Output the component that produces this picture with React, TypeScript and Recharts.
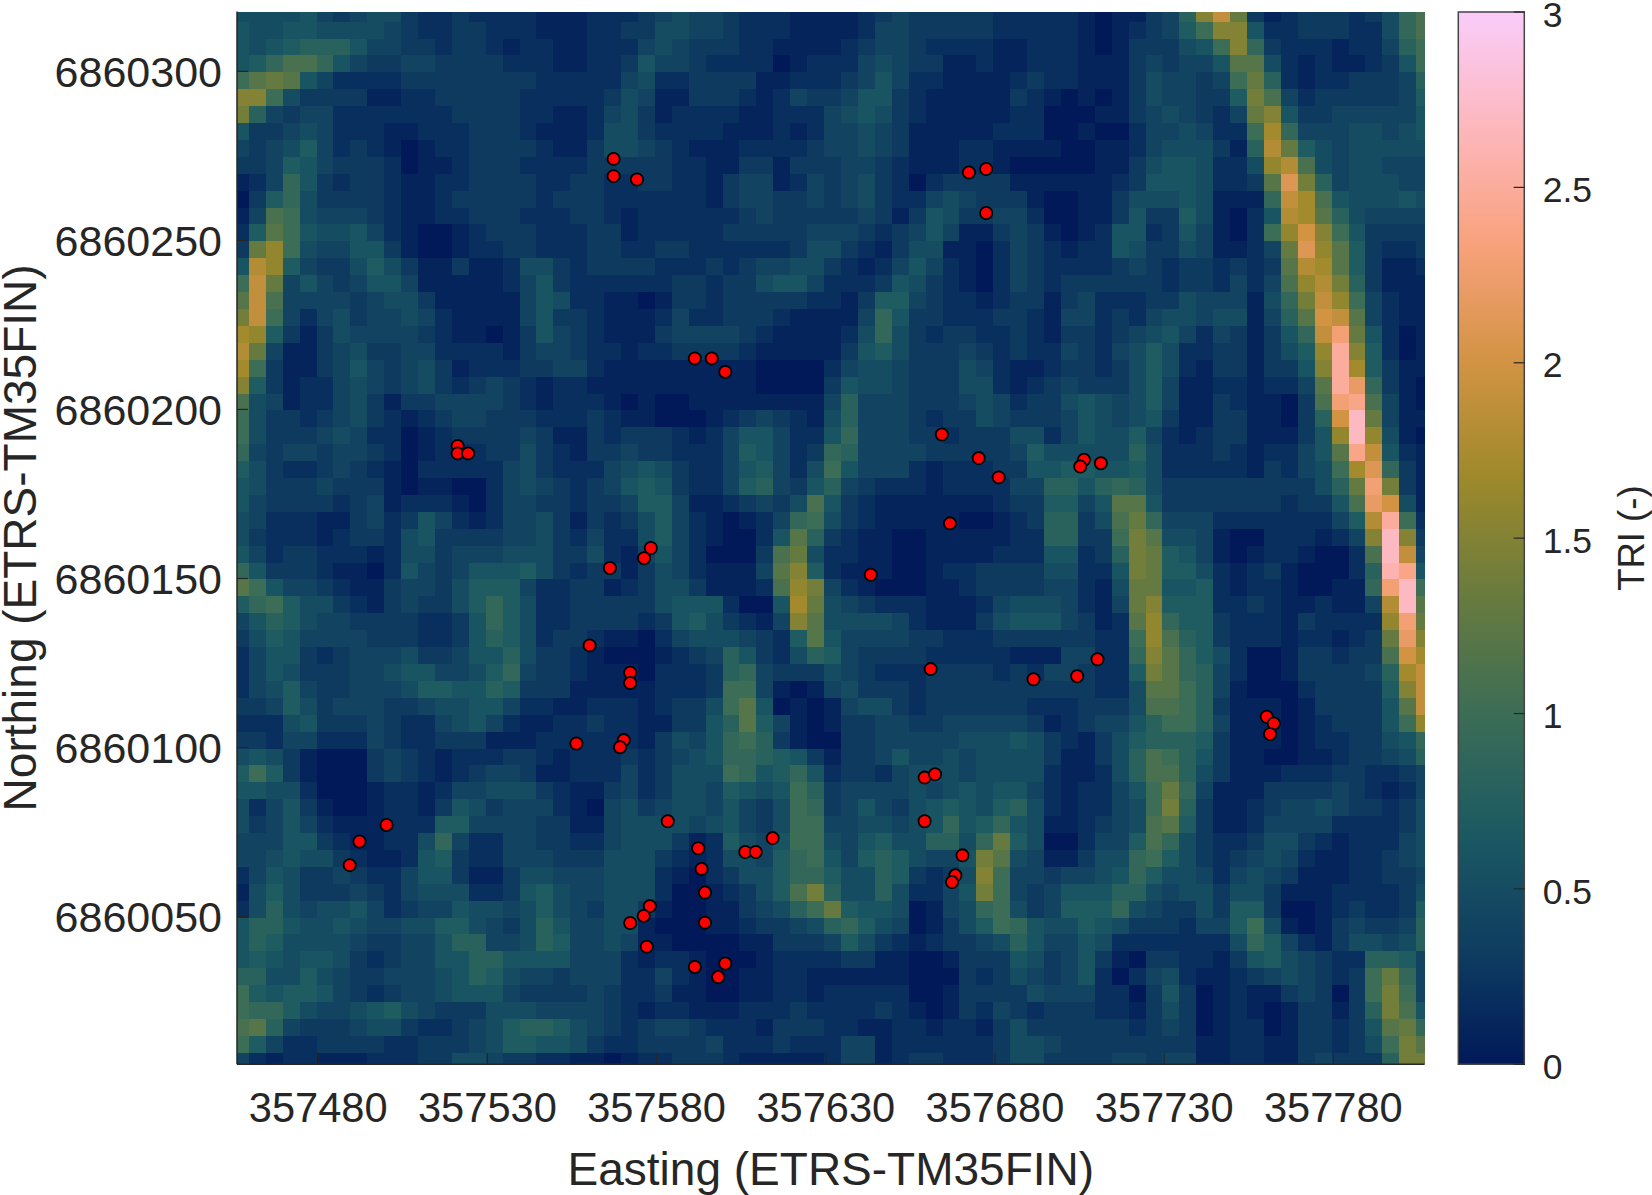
import { ScatterChart, Scatter, BarChart, Bar, XAxis, YAxis } from "recharts";

const eastTicks = [357480, 357530, 357580, 357630, 357680, 357730, 357780];
const northTicks = [6860050, 6860100, 6860150, 6860200, 6860250, 6860300];
const triTicks = [0, 0.5, 1, 1.5, 2, 2.5, 3];

// TRI per raster cell, one character per cell in tenths (0-9 then a=1.0, b=1.1, ...), north to south
const westCols = [
  "55556 43455 32232 22211 1222", "65566 55554 32233 22211 1223", "65678 88644 33233 21221 1222", "679bb 96433 44333 32221 1223",
  "acdc6 42222 33333 33322 2224", "ffa53 33311 22333 33222 2235", "e8434 42222 22233 33221 1245", "63345 42221 12223 33211 1255",
  "43457 42321 01223 33321 1355", "33476 43332 01123 33222 2333", "12496 32332 11223 33322 3322", "03795 33332 11233 33323 3322",
  "14ba5 44432 11223 33222 3321", "27ca6 55642 10012 33322 2331", "3dga5 44663 10012 23322 2332", "6ig74 33575 31131 12553 2333",
  "ajd46 43466 41111 12463 2222", "cjb44 44345 53111 11465 2211", "eja42 45344 54211 11463 3211", "hg731 35444 43211 01364 3211",
  "id411 34533 44222 21344 3221", "ha311 34643 45312 22334 4211", "f7312 24543 45323 43212 2111", "b5412 24531 33444 43212 2210",
  "a5332 34532 12344 33322 2321", "a5333 45422 01233 33431 1323", "94344 34432 01222 33532 1334", "75322 34321 02222 24532 2245",
  "65333 43331 01100 24543 2346", "64333 32341 22210 24433 2334", "54222 11342 36421 24453 1323", "53222 12332 56333 34453 2422",
  "64233 22212 55344 45553 3521", "96333 21102 64346 66753 2331", "ca644 32113 44357 77422 3312", "79a75 53213 43357 97522 3333",
  "46875 44333 32236 97522 3333", "35764 44433 32236 87523 3211", "24663 23444 53346 68533 2100", "24653 33445 66445 79433 2111",
  "24574 33444 57766 87333 1111", "33475 34443 34556 64221 1222", "22256 33343 22456 42112 2322", "33244 22243 22333 11122 2222",
  "56531 00034 32122 23321 2223", "7a731 00034 32123 44311 2224", "66552 00012 21244 55532 1134", "52463 10012 21365 34442 1045",
  "53464 21112 22774 44433 1145", "44466 32112 25942 24433 2245", "44565 53211 26732 24443 3355", "24653 34322 46631 13554 4455",
  "15753 33432 45552 23675 4455", "25854 55642 34465 54575 4355", "68865 56544 55775 43586 4455", "68755 55433 44688 44587 4454",
  "67656 65323 44668 86666 4442", "88557 54334 44568 75443 4442", "a7677 64323 44566 64333 3432", "a9975 44567 54333 55544 4432",
  "bc843 33455 32234 57887 5432", "a7422 33332 23334 57766 5322", "42122 11122 23355 43322 1101",
];
const midCols = [
  "34544 32221 11123 43333 3222", "35544 32221 11124 43333 3222", "45433 32211 11234 43222 2112", "64432 22201 22245 43311 2112",
  "52233 33112 22346 42211 1123", "41133 32124 33466 32111 1132", "31222 21122 24565 32111 1122", "32222 11121 24454 31111 1222",
  "43211 12222 34454 31112 2111", "33221 13313 33443 21112 2100", "33221 34412 43453 20233 3311", "22221 34433 43453 22454 3331",
  "22222 23433 33343 13653 3442", "22222 33333 44432 34641 1343", "23322 22223 55321 35511 0243", "32223 23445 53212 46421 0243",
  "22332 33566 42223 65321 0243", "01332 33333 22137 74322 1233", "12422 33321 11149 63322 2332", "13444 43211 11259 53233 2232",
  "22333 32111 11367 53334 3232", "11111 11000 02455 43335 4211", "11111 11000 03655 43335 5212", "10011 11111 14844 43334 5423",
  "10001 23432 15844 43233 5433", "33212 46642 26944 43323 3355", "33222 47642 39844 44333 3347", "65322 46742 5a644 42122 2336",
  "76322 47843 68432 22122 2244", "77411 23435 b6321 11111 1233", "57421 01249 a5321 11110 0123", "57421 0026c 83211 00111 1122",
  "46420 003bd 52211 00111 1222", "35421 114cf 72111 00122 3333", "35531 112bg e4210 00112 3333", "35666 2006h d5432 22111 2455",
  "23675 3214f c5555 42111 3566", "02455 54327 c6444 43322 2333", "01234 86325 87433 33222 2211", "02223 89433 35432 22333 3232",
  "12223 aa410 14533 32333 3333", "12335 ac601 01455 32333 3332", "11336 8c741 01334 43344 4443", "13546 9a831 00334 44445 5565",
  "23456 99876 31334 64454 5555", "23555 a9679 62332 45554 5555", "23554 7656a 83444 45456 5664", "34554 6435a 93464 35676 5785",
  "55545 6435a a4455 45696 7965", "55312 7546a a5467 55885 9d75", "53212 55479 a6478 75446 ec54", "52102 35579 97558 73235 fa44",
  "52001 2357b e8558 52246 ea43", "31001 13458 ad766 50145 9a53", "10001 12334 58975 40135 7a96", "11000 01133 34753 21233 4586",
  "12210 00122 22331 10013 3365", "24210 01122 11111 10003 2354", "23110 01122 12222 20013 3335", "12211 12223 22223 21013 2432",
  "34432 22133 32211 22122 1353", "33334 22232 22441 22222 2355", "22333 21111 12441 23322 2355",
];
const eastCols = [
  "22101 1348f jd312 33323 59b", "22101 2347a ff622 33322 59b", "22101 33356 af932 22122 48a", "22111 34344 6cc52 12112 36a",
  "22111 35443 4ad82 12233 348", "10101 35443 37eb4 23333 347", "00011 34543 24df6 33444 446", "00100 24454 22ah9 44455 456",
  "10011 24555 318id 75455 555", "00011 35665 225gi b5455 444", "11112 36665 223cl e8455 544", "00113 55565 1119j hb655 565",
  "00113 63375 1026i hc854 444", "10126 62364 102ag kfa63 333", "21226 53354 1124d lgc73 223", "22223 43233 2323c ihc73 112",
  "23333 33233 2424b gie83 111", "13422 23354 44159 ejga4 211", "14423 24554 55148 ckjc4 211", "13323 45642 43136 9jnd6 201",
  "24324 57522 33135 7gpf7 201", "23323 57521 33133 6fph7 311", "34333 57411 22122 4cpm9 310", "35654 57411 32110 3bnob 410",
  "34654 56311 33110 38krd 411", "24655 74212 33111 36grg 510", "55555 85222 32122 46coj 621", "67766 75222 22132 45ahl 931",
  "88689 85333 33333 358dn e31", "7746c c6333 33332 336bm k51", "8835b d9444 22222 2247i pa2", "8833a ec554 10022 2124f rf3",
  "66238 ed764 10122 1002b rj4", "55226 ed775 21231 00028 qo6", "44215 dd667 21221 00119 nra", "54214 df777 22321 12114 irc",
  "64312 cg977 32221 32222 gnd", "33322 agb87 32221 22123 dmf", "14422 9fc97 52001 33233 bkh", "44322 7ec98 42001 33334 8hj",
  "33322 5cca8 41000 23333 7fj", "22333 5bba8 31110 13333 6cj", "12344 68aa8 41110 12333 6ag", "32135 78887 31110 12233 569",
  "31135 8ba86 31100 11233 458", "21125 8bb85 31112 22332 234", "21224 6ad94 11133 33432 124", "21224 5ae83 11234 45433 235",
  "11234 5bc73 11244 44222 235", "00244 7b953 22355 32122 245", "11355 9a753 23454 21122 345", "34456 97554 24543 11122 334",
  "46668 85455 35531 11222 235", "47779 54335 37730 01232 237", "55765 33324 47a51 01343 348", "44652 22222 25974 21355 458",
  "34631 03322 13675 43228 874", "34620 24521 12345 4323a d94", "44422 03630 12113 4303a ea4", "33322 13530 12101 33138 eb6",
  "33333 23430 12201 33236 cd9", "43333 33331 12211 33235 aec", "33334 43441 12211 34333 8ee",
];

const sampleEast = [
  567.3, 567.3, 574.2, 672.3, 677.4, 677.4, 591.3, 596.3, 600.3, 664.3, 675.2, 681.1, 666.7, 643.3, 578.3, 576.3, 661, 691.4,
  521.2, 521.2, 524.3, 566.2, 560.2, 572.2, 572.2, 706.3, 705.2, 711.3, 710.3, 704.3, 760.3, 762.4, 761.3, 556.3, 570.3, 569.2,
  500.2, 492.2, 489.3, 578, 576.2, 572.2, 577.1, 583.3, 592.3, 593.3, 594.3, 594.3, 591.3, 600.3, 598.2, 606.2, 609.3, 614.3,
  659.2, 662.3, 659.2, 670.4, 668.3, 667.3,
];
const sampleNorth = [
  274.1, 269, 268, 270.1, 271.1, 258.1, 215.1, 215.1, 211.1, 192.6, 185.6, 179.9, 166.3, 151.1, 159, 156, 123.2, 120.2,
  189.2, 187, 187, 153.1, 130.2, 122.1, 119.1, 185.1, 183.1, 184.1, 126.1, 121.1, 109.1, 107.1, 104, 101.2, 102.2, 100.1,
  77.1, 72.2, 65.2, 53.1, 50.2, 48.1, 41.1, 78.2, 70.2, 64.1, 57.1, 48.2, 35.1, 36.1, 32.1, 69.1, 69.1, 73.2,
  91.1, 92.1, 78.2, 68.1, 62.2, 60.2,
];

const batlow = ["#011959", "#0f3e61", "#1c5a62", "#3c6d56", "#687b3e", "#9d892b", "#d29343", "#f8a17b", "#fdb7bc", "#faccfa"];

const W = 1652;
const H = 1195;
const L = 237;
const R = 1424.7;
const T = 11.5;
const B = 1064.3;
const xDomain = [357456, 357807];
const yDomain = [6860006.3, 6860317.7];
const cellW = (5 * (R - L)) / (xDomain[1] - xDomain[0]);
const cellH = (5 * (B - T)) / (yDomain[1] - yDomain[0]);
const ink = "#262626";
const font = "'Liberation Sans', Arial, sans-serif";

const hex = (c: string, i: number) => parseInt(c.slice(1 + i * 2, 3 + i * 2), 16);
const triColor = (v: number) => {
  const p = (Math.min(v, 3) / 3) * (batlow.length - 1);
  const i = Math.min(Math.floor(p), batlow.length - 2);
  const f = p - i;
  const ch = [0, 1, 2].map((k) => Math.round(hex(batlow[i], k) * (1 - f) + hex(batlow[i + 1], k) * f));
  return `rgb(${ch.join(",")})`;
};

const cells = westCols.flatMap((west, r) => {
  const row = (west + midCols[r] + eastCols[r]).replace(/ /g, "");
  return row.split("").map((ch, c) => ({
    easting: 357457 + 5 * c,
    northing: 6860317.2 - 5 * r,
    tri: parseInt(ch, 36) / 10,
  }));
});
const samples = sampleEast.map((e, i) => ({ easting: 357000 + e, northing: 6860000 + sampleNorth[i] }));
const barData = [{ name: "TRI", top: 3 }];

// raster cell, trimmed to the axes box since the outer rows and columns are cut off
const RasterCell = (props: any) => {
  const x0 = Math.max(L, props.cx - cellW / 2);
  const x1 = Math.min(R, props.cx + cellW / 2);
  const y0 = Math.max(T, props.cy - cellH / 2);
  const y1 = Math.min(B, props.cy + cellH / 2);
  return <rect x={x0} y={y0} width={x1 - x0} height={y1 - y0} fill={triColor(props.payload.tri)} shapeRendering="crispEdges" />;
};
const SampleDot = (props: any) => <circle cx={props.cx} cy={props.cy} r={6.1} fill="#ff0000" stroke="#000" strokeWidth={1.8} />;
const NoTick = () => <g />;

const axisLine = { stroke: ink, strokeWidth: 1.5 };
const tickLine = { stroke: ink, strokeWidth: 1.2 };
const labelText = { fill: ink, fontSize: 46, fontFamily: font };
const layer = { position: "absolute", left: 0, top: 0 } as const;

export default function App() {
  return (
    <div style={{ ...layer, width: W, height: H, background: "#fff" }}>
      {/* raster goes in its own chart so the axes of the next one sit on top of it */}
      <div style={layer}>
        <ScatterChart width={W} height={H} margin={{ left: L, right: W - R, top: T, bottom: H - B }}>
          <XAxis dataKey="easting" type="number" domain={xDomain} hide />
          <YAxis dataKey="northing" type="number" domain={yDomain} hide />
          <Scatter data={cells} shape={RasterCell} isAnimationActive={false} />
        </ScatterChart>
      </div>
      <div style={layer}>
        <ScatterChart width={W} height={H} margin={{ left: 0, right: W - R, top: T, bottom: 0 }}>
          <XAxis
            dataKey="easting"
            type="number"
            domain={xDomain}
            ticks={eastTicks}
            interval={0}
            height={H - B}
            tickSize={-11}
            tickMargin={39}
            axisLine={axisLine}
            tickLine={tickLine}
            tick={{ fill: ink, fontSize: 41.6, fontFamily: font }}
            label={{ value: "Easting (ETRS-TM35FIN)", position: "insideBottom", offset: 10, style: labelText }}
          />
          <YAxis
            dataKey="northing"
            type="number"
            domain={yDomain}
            ticks={northTicks}
            interval={0}
            width={L}
            tickSize={-11}
            tickMargin={26}
            axisLine={axisLine}
            tickLine={tickLine}
            tick={{ fill: ink, fontSize: 43, fontFamily: font }}
            label={{ value: "Northing (ETRS-TM35FIN)", angle: -90, position: "insideLeft", offset: 0, dx: 20, style: { ...labelText, textAnchor: "middle" } }}
          />
          <XAxis xAxisId="top" orientation="top" type="number" domain={xDomain} ticks={eastTicks} interval={0} height={0} tickSize={-11} axisLine={axisLine} tickLine={tickLine} tick={NoTick} />
          <YAxis yAxisId="right" orientation="right" type="number" domain={yDomain} ticks={northTicks} interval={0} width={0} tickSize={-11} axisLine={axisLine} tickLine={tickLine} tick={NoTick} />
          <Scatter data={samples} shape={SampleDot} isAnimationActive={false} />
        </ScatterChart>
      </div>
      <div style={layer}>
        <BarChart width={W} height={H} data={barData} barCategoryGap={0} margin={{ left: 1458.3, right: 0, top: 12, bottom: H - B }}>
          <defs>
            <linearGradient id="triRamp" x1="0" y1="1" x2="0" y2="0">
              {batlow.map((c, i) => (
                <stop key={c} offset={i / (batlow.length - 1)} stopColor={c} />
              ))}
            </linearGradient>
          </defs>
          <XAxis dataKey="name" hide />
          <YAxis
            orientation="right"
            type="number"
            domain={[0, 3]}
            ticks={triTicks}
            interval={0}
            width={W - 1524.7}
            tickSize={-11}
            tickMargin={29}
            axisLine={false}
            tickLine={tickLine}
            tick={{ fill: ink, fontFamily: font, fontSize: 35.5, dy: 2 }}
            label={{ value: "TRI (-)", angle: -90, position: "insideRight", offset: 0, dx: -21, style: { ...labelText, fontSize: 36.5, textAnchor: "middle" } }}
          />
          <Bar dataKey="top" fill="url(#triRamp)" stroke="#444" strokeWidth={1.5} isAnimationActive={false} />
        </BarChart>
      </div>
    </div>
  );
}
